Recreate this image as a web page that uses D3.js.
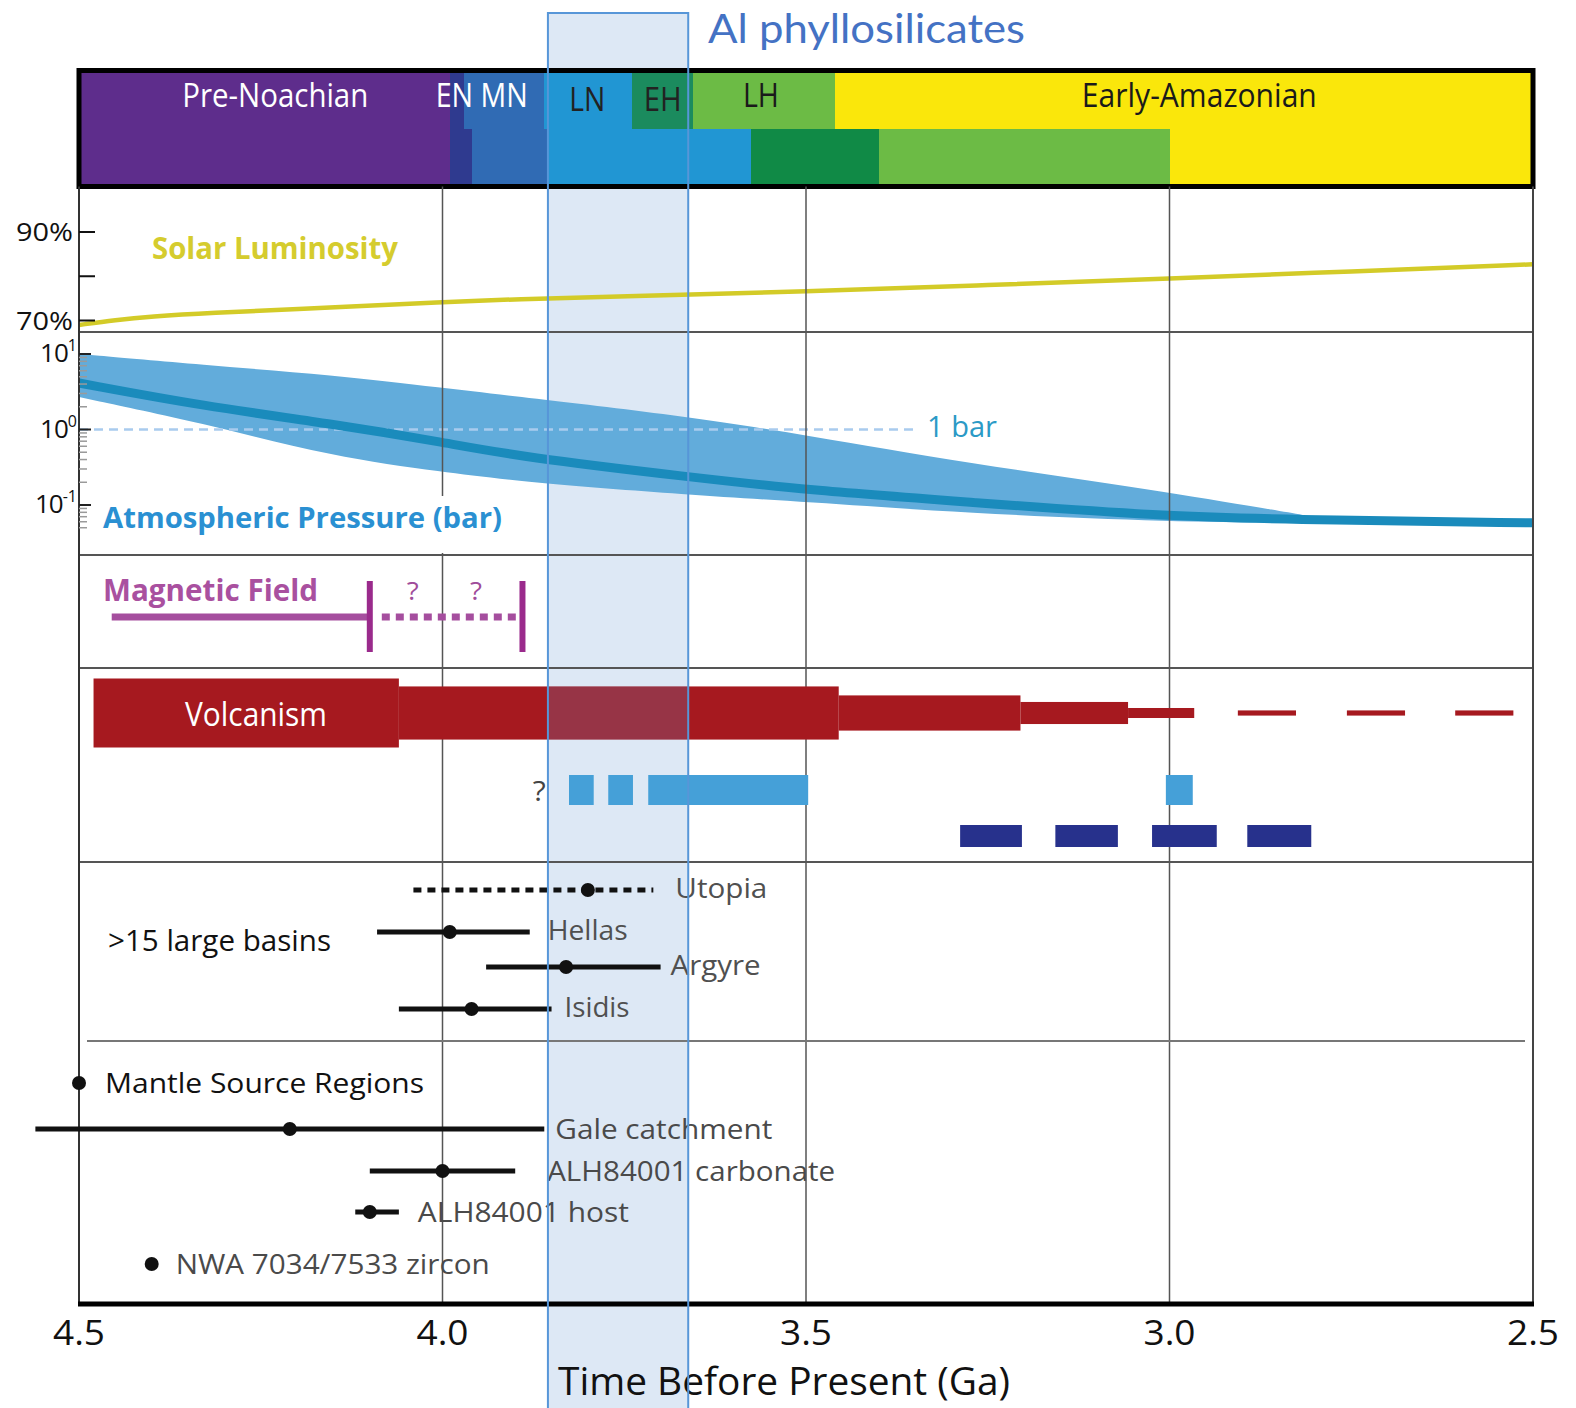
<!DOCTYPE html>
<html>
<head>
<meta charset="utf-8">
<title>Early Mars timeline</title>
<script src="https://cdn.jsdelivr.net/npm/d3@7"></script>
<style>
  html, body { margin: 0; padding: 0; background: #fff; }
  svg { display: block; font-family: "Open Sans", "Noto Sans", sans-serif; }
</style>
</head>
<body>
<svg id="chart" width="1576" height="1408"></svg>
<script>
// ---------------- data (time in Ga before present) ----------------
const timeTicks = [4.5, 4.0, 3.5, 3.0, 2.5];
const gridTimes = [4.0, 3.5, 3.0];
const alPhyllosilicates = [3.855, 3.662];

// Geological periods: upper row and lower row boundaries
const upperBounds = [4.5, 3.99, 3.97, 3.86, 3.74, 3.655, 3.46, 2.5];
const lowerBounds = [4.5, 3.99, 3.96, 3.855, 3.575, 3.40, 3.00, 2.5];
const periodNames = ["Pre-Noachian", "EN MN", "LN", "EH", "LH", "Early-Amazonian"];
const periodLabelTime = [4.23, 3.946, 3.801, 3.697, 3.562, 2.959];

// Solar luminosity (% of present)
const lumTime  = [4.5, 4.45, 4.4, 4.33, 4.15, 4.0, 3.9, 3.75, 3.5, 3.25, 3.0, 2.75, 2.5];
const lumValue = [69.0, 70.1, 70.9, 71.7, 72.9, 74.2, 74.8, 75.5, 76.5, 78.0, 79.5, 81.1, 82.7];
const lumTicks = [70, 80, 90];
const lumTickLabels = ["70%", "", "90%"];

// Atmospheric pressure (bar)
const pressTime  = [4.5, 4.33, 4.15, 4.0, 3.89, 3.66, 3.5, 3.28, 3.0, 2.78];
const pressUpper = [10, 7.15, 5.27, 3.55, 2.69, 1.47, 0.845, 0.36, 0.149, 0.064];
const pressLower = [2.69, 1.22, 0.433, 0.274, 0.202, 0.136, 0.11, 0.078, 0.0596, 0.058];
const pressBestTime = [4.5, 4.33, 4.15, 4.0, 3.89, 3.66, 3.5, 3.28, 3.0, 2.78, 2.5];
const pressBest     = [4.13, 2.05, 1.18, 0.68, 0.43, 0.235, 0.158, 0.11, 0.069, 0.063, 0.058];
const oneBarSpan = [4.5, 3.35];
const pressMajor = [10, 1, 0.1];
const pressMajorSup = ["1", "0", "-1"];

// Magnetic field
const dynamoActive = [4.455, 4.1];
const dynamoUncertain = [4.1, 3.89];
const dynamoQuestion = [4.041, 3.954];

// Volcanism intensity (relative) per interval
const volcStart = [4.48, 4.06, 3.455, 3.205, 3.057];
const volcEnd   = [4.06, 3.455, 3.205, 3.057, 2.966];
const volcLevel = [1.0, 0.77, 0.51, 0.32, 0.145];
const volcTailStart = [2.906, 2.756, 2.607];
const volcTailEnd   = [2.826, 2.676, 2.527];
const volcTailLevel = 0.075;

// Aqueous episodes (light blue) and later episodes (dark blue)
const aqueousStart = [3.826, 3.772, 3.717, 3.005];
const aqueousEnd   = [3.792, 3.738, 3.497, 2.968];
const aqueousQuestion = 3.867;
const lateStart = [3.288, 3.157, 3.024, 2.893];
const lateEnd   = [3.203, 3.071, 2.935, 2.805];

// Large impact basins: best age and range
const basinNames = ["Utopia", "Hellas", "Argyre", "Isidis"];
const basinAge      = [3.80, 3.99, 3.83, 3.96];
const basinOldest   = [4.04, 4.09, 3.94, 4.06];
const basinYoungest = [3.71, 3.88, 3.70, 3.85];
const basinUncertain = [true, false, false, false];

// Sample and source-region ages
const sampleNames = ["Mantle Source Regions", "Gale catchment", "ALH84001 carbonate", "ALH84001 host", "NWA 7034/7533 zircon"];
const sampleAge      = [4.5, 4.21, 4.0, 4.10, 4.40];
const sampleOldest   = [null, 4.56, 4.10, 4.12, null];
const sampleYoungest = [null, 3.86, 3.90, 4.06, null];

// ---------------- layout & style ----------------
const W = 1576, H = 1408;
const left = 79, right = 1533;
const frameTop = 70.5, frameMid = 128.5, frameBottom = 186.5;
const panelLines = [332, 555, 668, 862];
const axisY = 1304;

const upperFill = ["#5e2d8c", "#2f3a8f", "#306bb4", "#2196d3", "#1b8b5e", "#6cbb45", "#fae70b"];
const lowerFill = ["#5e2d8c", "#2f3a8f", "#306bb4", "#2196d3", "#108a46", "#6cbb45", "#fae70b"];
const periodLabelFill = ["#ffffff", "#ffffff", "#222", "#222", "#1a1a1a", "#1a1a1a"];
const periodLabelWidth = [186, 92, 36, 38, 36, 235];
const periodLabelY = [107, 107, 111, 111, 107, 107];

const basinRowY = [890, 932, 967, 1009];
const basinLabelGap = [22, 18, 10, 13];
const basinLabelWidth = [92, 80, 90, 65];
const sampleRowY = [1083, 1129, 1171, 1212, 1264];
const sampleLabelGap = [26, 11, 32, 19, 24];
const sampleLabelWidth = [319, 217, 288, 211, 314];
const sampleLabelFill = ["#111", "#4a4a4a", "#4a4a4a", "#4a4a4a", "#4a4a4a"];

const x = d3.scaleLinear().domain([4.5, 2.5]).range([left, right]);
const yLum = d3.scaleLinear().domain([70, 90]).range([320.5, 232]);
const yP = d3.scaleLog().domain([0.1, 10]).range([505, 354]);
const thickness = d3.scaleLinear().domain([0, 1]).range([0, 69]);
const volcY = 713;

const svg = d3.select("#chart");

function label(g, s, o) {
  const t = g.append("text")
    .attr("x", o.x).attr("y", o.y)
    .attr("font-size", o.size)
    .attr("font-weight", o.weight || 400)
    .attr("fill", o.fill || "#111")
    .attr("text-anchor", o.anchor || "start")
    .text(s);
  if (o.family) t.attr("font-family", o.family);
  if (o.width) t.attr("textLength", o.width).attr("lengthAdjust", "spacingAndGlyphs");
  return t;
}

svg.append("rect").attr("width", W).attr("height", H).attr("fill", "#fff");

// Al phyllosilicate window (background tint)
const bandX0 = x(alPhyllosilicates[0]), bandX1 = x(alPhyllosilicates[1]);
const bandFill = "rgba(100,150,210,0.22)";
svg.append("rect")
  .attr("x", bandX0).attr("y", 13)
  .attr("width", bandX1 - bandX0).attr("height", H)
  .attr("fill", bandFill);

// ---------------- geological periods ----------------
const gPer = svg.append("g");
function periodRow(bounds, fills, y0, y1) {
  gPer.append("g").selectAll("rect")
    .data(d3.pairs(bounds))
    .join("rect")
    .attr("x", d => x(d[0]))
    .attr("width", d => x(d[1]) - x(d[0]) + 0.5)
    .attr("y", y0).attr("height", y1 - y0)
    .attr("fill", (d, i) => fills[i])
    .attr("shape-rendering", "crispEdges");
}
periodRow(upperBounds, upperFill, frameTop, frameMid);
periodRow(lowerBounds, lowerFill, frameMid, frameBottom);
periodNames.forEach((n, i) => {
  label(gPer, n, {
    x: x(periodLabelTime[i]), y: periodLabelY[i], size: 32, anchor: "middle",
    fill: periodLabelFill[i], width: periodLabelWidth[i]
  });
});
gPer.append("rect")
  .attr("x", left).attr("y", frameTop)
  .attr("width", right - left).attr("height", frameBottom - frameTop)
  .attr("fill", "none").attr("stroke", "#000").attr("stroke-width", 5);

// ---------------- atmospheric pressure ----------------
const gP = svg.append("g");
const bandRows = d3.range(pressTime.length).map(i => ({ t: pressTime[i], lo: pressLower[i], hi: pressUpper[i] }));
gP.append("path")
  .datum(bandRows)
  .attr("fill", "#62acdb")
  .attr("d", d3.area()
    .x(d => x(d.t)).y0(d => yP(d.lo)).y1(d => yP(d.hi))
    .curve(d3.curveBasis));
gP.append("line")
  .attr("x1", x(oneBarSpan[0])).attr("x2", x(oneBarSpan[1]))
  .attr("y1", yP(1)).attr("y2", yP(1))
  .attr("stroke", "#a9cbee").attr("stroke-width", 2.5)
  .attr("stroke-dasharray", "9,6");
gP.append("path")
  .datum(d3.zip(pressBestTime, pressBest))
  .attr("fill", "none").attr("stroke", "#1a8bbc").attr("stroke-width", 9)
  .attr("d", d3.line().x(d => x(d[0])).y(d => yP(d[1])).curve(d3.curveBasis));

// ---------------- solar luminosity ----------------
svg.append("path")
  .datum(d3.zip(lumTime, lumValue))
  .attr("fill", "none").attr("stroke", "#d3cb28").attr("stroke-width", 4.5)
  .attr("d", d3.line().x(d => x(d[0])).y(d => yLum(d[1])).curve(d3.curveBasis));

// ---------------- frame, grid and axes ----------------
const gGrid = svg.append("g");
gGrid.selectAll("line.grid").data(gridTimes).join("line")
  .attr("class", "grid")
  .attr("x1", d => x(d)).attr("x2", d => x(d))
  .attr("y1", frameBottom).attr("y2", axisY)
  .attr("stroke", "#555").attr("stroke-width", 1.5);
gGrid.selectAll("line.panel").data(panelLines).join("line")
  .attr("class", "panel")
  .attr("x1", left).attr("x2", right)
  .attr("y1", d => d).attr("y2", d => d)
  .attr("stroke", "#555").attr("stroke-width", 2);
gGrid.append("line")
  .attr("x1", 87).attr("x2", 1525).attr("y1", 1041).attr("y2", 1041)
  .attr("stroke", "#777").attr("stroke-width", 2);
gGrid.append("line")
  .attr("x1", left).attr("x2", left).attr("y1", frameBottom).attr("y2", axisY)
  .attr("stroke", "#333").attr("stroke-width", 2);
gGrid.append("line")
  .attr("x1", right).attr("x2", right).attr("y1", frameBottom).attr("y2", axisY)
  .attr("stroke", "#444").attr("stroke-width", 2);

// luminosity axis
const gLumAxis = svg.append("g");
gLumAxis.selectAll("line").data(lumTicks).join("line")
  .attr("x1", left).attr("x2", left + 16)
  .attr("y1", d => yLum(d)).attr("y2", d => yLum(d))
  .attr("stroke", "#111").attr("stroke-width", 2);
lumTicks.forEach((v, i) => {
  if (lumTickLabels[i]) label(gLumAxis, lumTickLabels[i], {
    x: 73, y: yLum(v) + 9, size: 26, anchor: "end", width: 57, fill: "#111"
  });
});

// pressure axis (log)
const gPAxis = svg.append("g");
const minorTicks = [];
[0.01, 0.1, 1].forEach(dec => {
  for (let m = 2; m <= 9; m++) {
    const v = +(m * dec).toPrecision(3);
    if (v >= 0.05 && v < 10) minorTicks.push(v);
  }
});
gPAxis.selectAll("line.minor").data(minorTicks).join("line")
  .attr("class", "minor")
  .attr("x1", left).attr("x2", left + 8)
  .attr("y1", d => yP(d)).attr("y2", d => yP(d))
  .attr("stroke", "#9a9a9a").attr("stroke-width", 1.5);
gPAxis.selectAll("line.major").data(pressMajor).join("line")
  .attr("class", "major")
  .attr("x1", left).attr("x2", left + 12)
  .attr("y1", d => yP(d)).attr("y2", d => yP(d))
  .attr("stroke", "#222").attr("stroke-width", 2);
pressMajor.forEach((v, i) => {
  const t = gPAxis.append("text")
    .attr("x", 77).attr("y", yP(v) + 8)
    .attr("text-anchor", "end").attr("font-size", 26).attr("fill", "#111");
  t.append("tspan").text("10").attr("letter-spacing", -1);
  t.append("tspan").text(pressMajorSup[i]).attr("font-size", 16).attr("dy", -11);
});

// ---------------- magnetic field ----------------
const gMag = svg.append("g");
const magY = 617;
gMag.append("line")
  .attr("x1", x(dynamoActive[0])).attr("x2", x(dynamoActive[1]))
  .attr("y1", magY).attr("y2", magY)
  .attr("stroke", "#a54e9e").attr("stroke-width", 7);
gMag.append("line")
  .attr("x1", x(dynamoUncertain[0]) + 12).attr("x2", x(dynamoUncertain[1]) - 4)
  .attr("y1", magY).attr("y2", magY)
  .attr("stroke", "#a54e9e").attr("stroke-width", 7)
  .attr("stroke-dasharray", "8,6");
gMag.selectAll("line.end").data([dynamoUncertain[0], dynamoUncertain[1]]).join("line")
  .attr("class", "end")
  .attr("x1", d => x(d)).attr("x2", d => x(d))
  .attr("y1", 581).attr("y2", 652)
  .attr("stroke", "#9a2a8c").attr("stroke-width", 6);
dynamoQuestion.forEach(t => label(gMag, "?", {
  x: x(t), y: 600, size: 26, anchor: "middle", fill: "#a04c9a", width: 12
}));
label(gMag, "Magnetic Field", { x: 103, y: 601, size: 30, weight: 700, fill: "#a9509f", width: 215 });

// ---------------- volcanism ----------------
const gV = svg.append("g");
const volcRows = d3.range(volcStart.length).map(i => ({ a: volcStart[i], b: volcEnd[i], lv: volcLevel[i] }))
  .concat(d3.range(volcTailStart.length).map(i => ({ a: volcTailStart[i], b: volcTailEnd[i], lv: volcTailLevel })));
function volcRects(sel) {
  return sel.selectAll("rect").data(volcRows).join("rect")
    .attr("x", d => x(d.a)).attr("width", d => x(d.b) - x(d.a))
    .attr("y", d => volcY - thickness(d.lv) / 2)
    .attr("height", d => thickness(d.lv));
}
volcRects(gV.append("g")).attr("fill", "#a6191f");
const clip = svg.append("defs").append("clipPath").attr("id", "volc-clip");
volcRects(clip);
gV.append("rect")
  .attr("x", bandX0).attr("y", 660)
  .attr("width", bandX1 - bandX0).attr("height", 110)
  .attr("fill", bandFill).attr("clip-path", "url(#volc-clip)");
label(gV, "Volcanism", { x: 185, y: 726, size: 32, fill: "#fff", width: 142 });

gV.append("g").selectAll("rect").data(d3.zip(aqueousStart, aqueousEnd)).join("rect")
  .attr("x", d => x(d[0])).attr("width", d => x(d[1]) - x(d[0]))
  .attr("y", 775).attr("height", 30).attr("fill", "#45a0d8");
label(gV, "?", { x: x(aqueousQuestion), y: 801, size: 28, anchor: "middle", fill: "#444", width: 13 });
gV.append("g").selectAll("rect").data(d3.zip(lateStart, lateEnd)).join("rect")
  .attr("x", d => x(d[0])).attr("width", d => x(d[1]) - x(d[0]))
  .attr("y", 825).attr("height", 22).attr("fill", "#27318c");

// ---------------- impact basins ----------------
const gB = svg.append("g");
basinNames.forEach((n, i) => {
  const y = basinRowY[i];
  gB.append("line")
    .attr("x1", x(basinOldest[i])).attr("x2", x(basinYoungest[i]))
    .attr("y1", y).attr("y2", y)
    .attr("stroke", "#111").attr("stroke-width", 5)
    .attr("stroke-dasharray", basinUncertain[i] ? "8,6" : null);
  gB.append("circle").attr("cx", x(basinAge[i])).attr("cy", y).attr("r", 7).attr("fill", "#111");
  label(gB, n, {
    x: x(basinYoungest[i]) + basinLabelGap[i], y: y + 8, size: 28,
    fill: "#505050", width: basinLabelWidth[i]
  });
});
label(gB, ">15 large basins", { x: 108, y: 951, size: 29, fill: "#111", width: 223 });

// ---------------- sample ages ----------------
const gS = svg.append("g");
sampleNames.forEach((n, i) => {
  const y = sampleRowY[i];
  let end = x(sampleAge[i]);
  if (sampleOldest[i] != null) {
    gS.append("line")
      .attr("x1", x(sampleOldest[i])).attr("x2", x(sampleYoungest[i]))
      .attr("y1", y).attr("y2", y)
      .attr("stroke", "#111").attr("stroke-width", 5);
    end = x(sampleYoungest[i]);
  }
  gS.append("circle").attr("cx", x(sampleAge[i])).attr("cy", y).attr("r", 7).attr("fill", "#111");
  label(gS, n, {
    x: end + sampleLabelGap[i], y: y + 10, size: 28,
    fill: sampleLabelFill[i], width: sampleLabelWidth[i]
  });
});

// ---------------- panel titles ----------------
const gT = svg.append("g");
label(gT, "Solar Luminosity", { x: 152, y: 259, size: 30, weight: 700, fill: "#d5cc2e", width: 246 });
gT.append("rect").attr("x", 96).attr("y", 496).attr("width", 410).attr("height", 57).attr("fill", "#fff");
label(gT, "Atmospheric Pressure (bar)", { x: 103, y: 528, size: 28, weight: 700, fill: "#2a90d2", width: 399 });
label(gT, "1 bar", { x: 927, y: 437, size: 30, fill: "#2b9ac6", width: 70 });

// ---------------- time axis ----------------
const gX = svg.append("g");
gX.append("line")
  .attr("x1", left - 1).attr("x2", right + 1)
  .attr("y1", axisY).attr("y2", axisY)
  .attr("stroke", "#000").attr("stroke-width", 5);
timeTicks.forEach(t => label(gX, d3.format(".1f")(t), {
  x: x(t), y: 1345, size: 34, anchor: "middle", fill: "#111", width: 52
}));
label(gX, "Time Before Present (Ga)", { x: 784, y: 1395, size: 38, anchor: "middle", fill: "#111", width: 452 });

// ---------------- Al phyllosilicate window outline ----------------
const gBand = svg.append("g").attr("fill", "none").attr("stroke", "#5796d8").attr("stroke-width", 2);
gBand.append("path")
  .attr("d", `M${bandX0},${H} V13 H${bandX1} V${H}`);
label(svg, "Al phyllosilicates", {
  x: 708, y: 43, size: 40, fill: "#4472c4", width: 317,
  family: "Lato, 'Open Sans', sans-serif"
});
</script>
</body>
</html>
